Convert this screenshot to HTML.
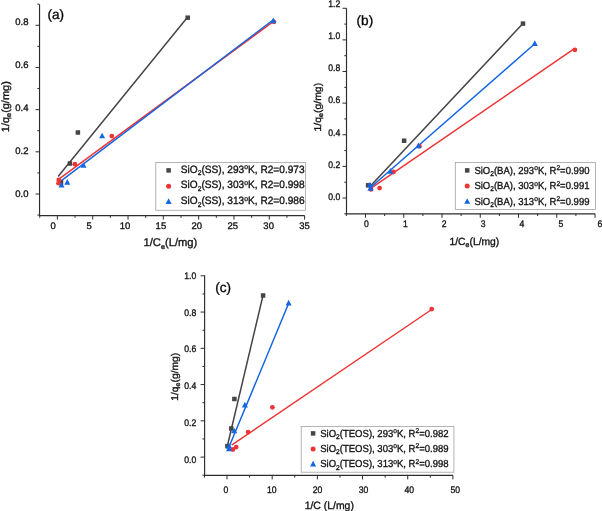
<!DOCTYPE html>
<html><head><meta charset="utf-8"><title>chart</title>
<style>
html,body{margin:0;padding:0;background:#fff;}
body{width:602px;height:511px;overflow:hidden;}
svg{display:block;font-family:"Liberation Sans",sans-serif;fill:#141414;text-rendering:geometricPrecision;will-change:transform;filter:blur(0.35px);}
text{stroke:#141414;stroke-width:0.34px;}
</style></head><body>
<svg width="602" height="511" viewBox="0 0 602 511">
<rect width="602" height="511" fill="#fff"/>
<g id="pa">
<path d="M39.55 4.5V215.6H304.6" fill="none" stroke="#2c2c2c" stroke-width="1.15"/>
<line x1="39.74" y1="215.6" x2="39.74" y2="217.79999999999998" stroke="#2c2c2c" stroke-width="1"/>
<line x1="57.40" y1="215.6" x2="57.40" y2="219.6" stroke="#2c2c2c" stroke-width="1"/>
<line x1="75.06" y1="215.6" x2="75.06" y2="217.79999999999998" stroke="#2c2c2c" stroke-width="1"/>
<line x1="92.72" y1="215.6" x2="92.72" y2="219.6" stroke="#2c2c2c" stroke-width="1"/>
<line x1="110.37" y1="215.6" x2="110.37" y2="217.79999999999998" stroke="#2c2c2c" stroke-width="1"/>
<line x1="128.03" y1="215.6" x2="128.03" y2="219.6" stroke="#2c2c2c" stroke-width="1"/>
<line x1="145.69" y1="215.6" x2="145.69" y2="217.79999999999998" stroke="#2c2c2c" stroke-width="1"/>
<line x1="163.34" y1="215.6" x2="163.34" y2="219.6" stroke="#2c2c2c" stroke-width="1"/>
<line x1="181.00" y1="215.6" x2="181.00" y2="217.79999999999998" stroke="#2c2c2c" stroke-width="1"/>
<line x1="198.66" y1="215.6" x2="198.66" y2="219.6" stroke="#2c2c2c" stroke-width="1"/>
<line x1="216.32" y1="215.6" x2="216.32" y2="217.79999999999998" stroke="#2c2c2c" stroke-width="1"/>
<line x1="233.97" y1="215.6" x2="233.97" y2="219.6" stroke="#2c2c2c" stroke-width="1"/>
<line x1="251.63" y1="215.6" x2="251.63" y2="217.79999999999998" stroke="#2c2c2c" stroke-width="1"/>
<line x1="269.29" y1="215.6" x2="269.29" y2="219.6" stroke="#2c2c2c" stroke-width="1"/>
<line x1="286.95" y1="215.6" x2="286.95" y2="217.79999999999998" stroke="#2c2c2c" stroke-width="1"/>
<line x1="304.60" y1="215.6" x2="304.60" y2="219.6" stroke="#2c2c2c" stroke-width="1"/>
<line x1="37.349999999999994" y1="215.09" x2="39.55" y2="215.09" stroke="#2c2c2c" stroke-width="1"/>
<line x1="35.55" y1="194.00" x2="39.55" y2="194.00" stroke="#2c2c2c" stroke-width="1"/>
<line x1="37.349999999999994" y1="172.91" x2="39.55" y2="172.91" stroke="#2c2c2c" stroke-width="1"/>
<line x1="35.55" y1="151.82" x2="39.55" y2="151.82" stroke="#2c2c2c" stroke-width="1"/>
<line x1="37.349999999999994" y1="130.73" x2="39.55" y2="130.73" stroke="#2c2c2c" stroke-width="1"/>
<line x1="35.55" y1="109.64" x2="39.55" y2="109.64" stroke="#2c2c2c" stroke-width="1"/>
<line x1="37.349999999999994" y1="88.55" x2="39.55" y2="88.55" stroke="#2c2c2c" stroke-width="1"/>
<line x1="35.55" y1="67.46" x2="39.55" y2="67.46" stroke="#2c2c2c" stroke-width="1"/>
<line x1="37.349999999999994" y1="46.37" x2="39.55" y2="46.37" stroke="#2c2c2c" stroke-width="1"/>
<line x1="35.55" y1="25.28" x2="39.55" y2="25.28" stroke="#2c2c2c" stroke-width="1"/>
<line x1="37.349999999999994" y1="4.19" x2="39.55" y2="4.19" stroke="#2c2c2c" stroke-width="1"/>
<text transform="translate(53.10,229.10) scale(1.0,1)" font-size="9.5" text-anchor="middle">0</text>
<text transform="translate(89.03,229.10) scale(1.0,1)" font-size="9.5" text-anchor="middle">5</text>
<text transform="translate(124.95,229.10) scale(1.0,1)" font-size="9.5" text-anchor="middle">10</text>
<text transform="translate(160.88,229.10) scale(1.0,1)" font-size="9.5" text-anchor="middle">15</text>
<text transform="translate(196.80,229.10) scale(1.0,1)" font-size="9.5" text-anchor="middle">20</text>
<text transform="translate(232.72,229.10) scale(1.0,1)" font-size="9.5" text-anchor="middle">25</text>
<text transform="translate(268.65,229.10) scale(1.0,1)" font-size="9.5" text-anchor="middle">30</text>
<text transform="translate(304.57,229.10) scale(1.0,1)" font-size="9.5" text-anchor="middle">35</text>
<text transform="translate(28.50,25.00) scale(1.0,1)" font-size="9.5" text-anchor="end">0.8</text>
<text transform="translate(28.50,68.00) scale(1.0,1)" font-size="9.5" text-anchor="end">0.6</text>
<text transform="translate(28.50,111.00) scale(1.0,1)" font-size="9.5" text-anchor="end">0.4</text>
<text transform="translate(28.50,154.00) scale(1.0,1)" font-size="9.5" text-anchor="end">0.2</text>
<text transform="translate(28.50,197.00) scale(1.0,1)" font-size="9.5" text-anchor="end">0.0</text>
<line x1="58.5" y1="176" x2="187.5" y2="17.3" stroke="#454545" stroke-width="1.5" stroke-linecap="round"/>
<line x1="58.5" y1="179.3" x2="273.5" y2="21.4" stroke="#EE3434" stroke-width="1.5" stroke-linecap="round"/>
<line x1="61.1" y1="180.9" x2="273" y2="20.0" stroke="#1466E4" stroke-width="1.5" stroke-linecap="round"/>
<rect x="185.45" y="15.45" width="4.5" height="4.5" fill="#454545"/>
<rect x="75.65" y="130.25" width="4.5" height="4.5" fill="#454545"/>
<rect x="67.65" y="161.25" width="4.5" height="4.5" fill="#454545"/>
<rect x="58.75" y="180.25" width="4.5" height="4.5" fill="#454545"/>
<circle cx="273.90" cy="21.80" r="2.4" fill="#EE3434"/>
<circle cx="111.80" cy="136.10" r="2.4" fill="#EE3434"/>
<circle cx="74.90" cy="164.20" r="2.4" fill="#EE3434"/>
<circle cx="58.80" cy="180.00" r="2.4" fill="#EE3434"/>
<circle cx="58.50" cy="183.20" r="2.4" fill="#EE3434"/>
<path d="M270.30 23.15L276.30 23.15L273.30 17.45Z" fill="#1466E4"/>
<path d="M99.10 138.35L105.10 138.35L102.10 132.65Z" fill="#1466E4"/>
<path d="M80.50 167.85L86.50 167.85L83.50 162.15Z" fill="#1466E4"/>
<path d="M64.30 184.65L70.30 184.65L67.30 178.95Z" fill="#1466E4"/>
<path d="M58.50 187.45L64.50 187.45L61.50 181.75Z" fill="#1466E4"/>
<text x="47.4" y="19.4" font-size="13.6" fill="#000">(a)</text>
<text transform="translate(9.0,106.7) rotate(-90)" font-size="10.5" text-anchor="middle" textLength="51" lengthAdjust="spacingAndGlyphs">1/q<tspan font-size="7.0" dy="2.1">e</tspan><tspan dy="-2.1">(g/mg)</tspan></text>
<text x="170.4" y="246.3" font-size="11.2" text-anchor="middle" textLength="53.8" lengthAdjust="spacingAndGlyphs">1/C<tspan font-size="7.2" dy="2.4">e</tspan><tspan dy="-2.4">(L/mg)</tspan></text>
<rect x="155.8" y="162.4" width="149.70" height="47.90" fill="#fff" stroke="#a2a2a2" stroke-width="0.8"/>
<rect x="166.35" y="168.15" width="4.5" height="4.5" fill="#454545"/>
<text x="180.8" y="172.50" font-size="10.6" textLength="123.8" lengthAdjust="spacingAndGlyphs">SiO<tspan font-size="7.1" dy="2.3">2</tspan><tspan dy="-2.3">(SS), 293</tspan><tspan font-size="7.1" dy="-3.5">o</tspan><tspan dy="3.5">K, R2=0.973</tspan></text>
<circle cx="168.60" cy="186.20" r="2.5" fill="#EE3434"/>
<text x="180.8" y="188.20" font-size="10.6" textLength="123.8" lengthAdjust="spacingAndGlyphs">SiO<tspan font-size="7.1" dy="2.3">2</tspan><tspan dy="-2.3">(SS), 303</tspan><tspan font-size="7.1" dy="-3.5">o</tspan><tspan dy="3.5">K, R2=0.998</tspan></text>
<path d="M165.60 204.05L171.60 204.05L168.60 198.35Z" fill="#1466E4"/>
<text x="180.8" y="204.20" font-size="10.6" textLength="123.8" lengthAdjust="spacingAndGlyphs">SiO<tspan font-size="7.1" dy="2.3">2</tspan><tspan dy="-2.3">(SS), 313</tspan><tspan font-size="7.1" dy="-3.5">o</tspan><tspan dy="3.5">K, R2=0.986</tspan></text>
</g>
<g id="pb">
<path d="M346.5 8.2V213.8H595.1" fill="none" stroke="#2c2c2c" stroke-width="1.15"/>
<line x1="346.38" y1="213.8" x2="346.38" y2="216.0" stroke="#2c2c2c" stroke-width="1"/>
<line x1="365.50" y1="213.8" x2="365.50" y2="217.8" stroke="#2c2c2c" stroke-width="1"/>
<line x1="384.62" y1="213.8" x2="384.62" y2="216.0" stroke="#2c2c2c" stroke-width="1"/>
<line x1="403.75" y1="213.8" x2="403.75" y2="217.8" stroke="#2c2c2c" stroke-width="1"/>
<line x1="422.88" y1="213.8" x2="422.88" y2="216.0" stroke="#2c2c2c" stroke-width="1"/>
<line x1="442.00" y1="213.8" x2="442.00" y2="217.8" stroke="#2c2c2c" stroke-width="1"/>
<line x1="461.12" y1="213.8" x2="461.12" y2="216.0" stroke="#2c2c2c" stroke-width="1"/>
<line x1="480.25" y1="213.8" x2="480.25" y2="217.8" stroke="#2c2c2c" stroke-width="1"/>
<line x1="499.38" y1="213.8" x2="499.38" y2="216.0" stroke="#2c2c2c" stroke-width="1"/>
<line x1="518.50" y1="213.8" x2="518.50" y2="217.8" stroke="#2c2c2c" stroke-width="1"/>
<line x1="537.62" y1="213.8" x2="537.62" y2="216.0" stroke="#2c2c2c" stroke-width="1"/>
<line x1="556.75" y1="213.8" x2="556.75" y2="217.8" stroke="#2c2c2c" stroke-width="1"/>
<line x1="575.88" y1="213.8" x2="575.88" y2="216.0" stroke="#2c2c2c" stroke-width="1"/>
<line x1="595.00" y1="213.8" x2="595.00" y2="217.8" stroke="#2c2c2c" stroke-width="1"/>
<line x1="344.3" y1="213.81" x2="346.5" y2="213.81" stroke="#2c2c2c" stroke-width="1"/>
<line x1="342.5" y1="198.00" x2="346.5" y2="198.00" stroke="#2c2c2c" stroke-width="1"/>
<line x1="344.3" y1="182.19" x2="346.5" y2="182.19" stroke="#2c2c2c" stroke-width="1"/>
<line x1="342.5" y1="166.38" x2="346.5" y2="166.38" stroke="#2c2c2c" stroke-width="1"/>
<line x1="344.3" y1="150.57" x2="346.5" y2="150.57" stroke="#2c2c2c" stroke-width="1"/>
<line x1="342.5" y1="134.76" x2="346.5" y2="134.76" stroke="#2c2c2c" stroke-width="1"/>
<line x1="344.3" y1="118.95" x2="346.5" y2="118.95" stroke="#2c2c2c" stroke-width="1"/>
<line x1="342.5" y1="103.14" x2="346.5" y2="103.14" stroke="#2c2c2c" stroke-width="1"/>
<line x1="344.3" y1="87.33" x2="346.5" y2="87.33" stroke="#2c2c2c" stroke-width="1"/>
<line x1="342.5" y1="71.52" x2="346.5" y2="71.52" stroke="#2c2c2c" stroke-width="1"/>
<line x1="344.3" y1="55.71" x2="346.5" y2="55.71" stroke="#2c2c2c" stroke-width="1"/>
<line x1="342.5" y1="39.90" x2="346.5" y2="39.90" stroke="#2c2c2c" stroke-width="1"/>
<line x1="344.3" y1="24.09" x2="346.5" y2="24.09" stroke="#2c2c2c" stroke-width="1"/>
<line x1="342.5" y1="8.28" x2="346.5" y2="8.28" stroke="#2c2c2c" stroke-width="1"/>
<text transform="translate(366.40,226.70) scale(0.91,1)" font-size="9.5" text-anchor="middle">0</text>
<text transform="translate(405.30,226.70) scale(0.91,1)" font-size="9.5" text-anchor="middle">1</text>
<text transform="translate(444.20,226.70) scale(0.91,1)" font-size="9.5" text-anchor="middle">2</text>
<text transform="translate(483.10,226.70) scale(0.91,1)" font-size="9.5" text-anchor="middle">3</text>
<text transform="translate(522.00,226.70) scale(0.91,1)" font-size="9.5" text-anchor="middle">4</text>
<text transform="translate(560.90,226.70) scale(0.91,1)" font-size="9.5" text-anchor="middle">5</text>
<text transform="translate(599.80,226.70) scale(0.91,1)" font-size="9.5" text-anchor="middle">6</text>
<text transform="translate(340.20,200.00) scale(0.91,1)" font-size="9.5" text-anchor="end">0.0</text>
<text transform="translate(340.20,167.82) scale(0.91,1)" font-size="9.5" text-anchor="end">0.2</text>
<text transform="translate(340.20,135.64) scale(0.91,1)" font-size="9.5" text-anchor="end">0.4</text>
<text transform="translate(340.20,103.46) scale(0.91,1)" font-size="9.5" text-anchor="end">0.6</text>
<text transform="translate(340.20,71.28) scale(0.91,1)" font-size="9.5" text-anchor="end">0.8</text>
<text transform="translate(340.20,39.10) scale(0.91,1)" font-size="9.5" text-anchor="end">1.0</text>
<text transform="translate(340.20,6.92) scale(0.91,1)" font-size="9.5" text-anchor="end">1.2</text>
<line x1="369.5" y1="187.1" x2="522.5" y2="24" stroke="#454545" stroke-width="1.5" stroke-linecap="round"/>
<line x1="370.4" y1="188.6" x2="574.4" y2="48.6" stroke="#EE3434" stroke-width="1.5" stroke-linecap="round"/>
<line x1="370" y1="188" x2="534.5" y2="44" stroke="#1466E4" stroke-width="1.5" stroke-linecap="round"/>
<rect x="520.75" y="21.35" width="4.5" height="4.5" fill="#454545"/>
<rect x="401.85" y="138.45" width="4.5" height="4.5" fill="#454545"/>
<rect x="365.85" y="183.05" width="4.5" height="4.5" fill="#454545"/>
<circle cx="574.90" cy="49.80" r="2.4" fill="#EE3434"/>
<circle cx="419.40" cy="146.20" r="2.4" fill="#EE3434"/>
<circle cx="393.50" cy="172.00" r="2.4" fill="#EE3434"/>
<circle cx="379.60" cy="188.10" r="2.4" fill="#EE3434"/>
<circle cx="371.00" cy="189.40" r="2.4" fill="#EE3434"/>
<path d="M531.80 46.05L537.80 46.05L534.80 40.35Z" fill="#1466E4"/>
<path d="M415.40 148.25L421.40 148.25L418.40 142.55Z" fill="#1466E4"/>
<path d="M387.40 173.65L393.40 173.65L390.40 167.95Z" fill="#1466E4"/>
<path d="M367.00 187.35L373.00 187.35L370.00 181.65Z" fill="#1466E4"/>
<path d="M367.40 190.85L373.40 190.85L370.40 185.15Z" fill="#1466E4"/>
<text x="356.6" y="25.2" font-size="13.6" fill="#000">(b)</text>
<text transform="translate(321.4,107.2) rotate(-90)" font-size="9.9" text-anchor="middle" textLength="48.6" lengthAdjust="spacingAndGlyphs">1/q<tspan font-size="6.8" dy="2.0">e</tspan><tspan dy="-2.0">(g/mg)</tspan></text>
<text x="474.4" y="244.5" font-size="10.4" text-anchor="middle" textLength="49.8" lengthAdjust="spacingAndGlyphs">1/C<tspan font-size="7" dy="2.3">e</tspan><tspan dy="-2.3">(L/mg)</tspan></text>
<rect x="455.3" y="162.4" width="140.30" height="47.10" fill="#fff" stroke="#a2a2a2" stroke-width="0.8"/>
<rect x="464.95" y="168.15" width="4.5" height="4.5" fill="#454545"/>
<text x="474.4" y="173.60" font-size="10.2" textLength="115.1" lengthAdjust="spacingAndGlyphs">SiO<tspan font-size="7.1" dy="2.3">2</tspan><tspan dy="-2.3">(BA), 293</tspan><tspan font-size="7.1" dy="-3.5">o</tspan><tspan dy="3.5">K, R</tspan><tspan font-size="7.1" dy="-3.5">2</tspan><tspan dy="3.5">=0.990</tspan></text>
<circle cx="467.20" cy="186.10" r="2.5" fill="#EE3434"/>
<text x="474.4" y="189.00" font-size="10.2" textLength="115.1" lengthAdjust="spacingAndGlyphs">SiO<tspan font-size="7.1" dy="2.3">2</tspan><tspan dy="-2.3">(BA), 303</tspan><tspan font-size="7.1" dy="-3.5">o</tspan><tspan dy="3.5">K, R</tspan><tspan font-size="7.1" dy="-3.5">2</tspan><tspan dy="3.5">=0.991</tspan></text>
<path d="M464.20 203.85L470.20 203.85L467.20 198.15Z" fill="#1466E4"/>
<text x="474.4" y="204.70" font-size="10.2" textLength="115.1" lengthAdjust="spacingAndGlyphs">SiO<tspan font-size="7.1" dy="2.3">2</tspan><tspan dy="-2.3">(BA), 313</tspan><tspan font-size="7.1" dy="-3.5">o</tspan><tspan dy="3.5">K, R</tspan><tspan font-size="7.1" dy="-3.5">2</tspan><tspan dy="3.5">=0.999</tspan></text>
</g>
<g id="pc">
<path d="M204.6 275.3V475.4H453.0" fill="none" stroke="#2c2c2c" stroke-width="1.15"/>
<line x1="204.41" y1="475.4" x2="204.41" y2="477.59999999999997" stroke="#2c2c2c" stroke-width="1"/>
<line x1="227.00" y1="475.4" x2="227.00" y2="479.4" stroke="#2c2c2c" stroke-width="1"/>
<line x1="249.59" y1="475.4" x2="249.59" y2="477.59999999999997" stroke="#2c2c2c" stroke-width="1"/>
<line x1="272.18" y1="475.4" x2="272.18" y2="479.4" stroke="#2c2c2c" stroke-width="1"/>
<line x1="294.77" y1="475.4" x2="294.77" y2="477.59999999999997" stroke="#2c2c2c" stroke-width="1"/>
<line x1="317.36" y1="475.4" x2="317.36" y2="479.4" stroke="#2c2c2c" stroke-width="1"/>
<line x1="339.95" y1="475.4" x2="339.95" y2="477.59999999999997" stroke="#2c2c2c" stroke-width="1"/>
<line x1="362.54" y1="475.4" x2="362.54" y2="479.4" stroke="#2c2c2c" stroke-width="1"/>
<line x1="385.13" y1="475.4" x2="385.13" y2="477.59999999999997" stroke="#2c2c2c" stroke-width="1"/>
<line x1="407.72" y1="475.4" x2="407.72" y2="479.4" stroke="#2c2c2c" stroke-width="1"/>
<line x1="430.31" y1="475.4" x2="430.31" y2="477.59999999999997" stroke="#2c2c2c" stroke-width="1"/>
<line x1="452.90" y1="475.4" x2="452.90" y2="479.4" stroke="#2c2c2c" stroke-width="1"/>
<line x1="202.4" y1="475.23" x2="204.6" y2="475.23" stroke="#2c2c2c" stroke-width="1"/>
<line x1="200.6" y1="457.10" x2="204.6" y2="457.10" stroke="#2c2c2c" stroke-width="1"/>
<line x1="202.4" y1="438.97" x2="204.6" y2="438.97" stroke="#2c2c2c" stroke-width="1"/>
<line x1="200.6" y1="420.84" x2="204.6" y2="420.84" stroke="#2c2c2c" stroke-width="1"/>
<line x1="202.4" y1="402.71" x2="204.6" y2="402.71" stroke="#2c2c2c" stroke-width="1"/>
<line x1="200.6" y1="384.58" x2="204.6" y2="384.58" stroke="#2c2c2c" stroke-width="1"/>
<line x1="202.4" y1="366.45" x2="204.6" y2="366.45" stroke="#2c2c2c" stroke-width="1"/>
<line x1="200.6" y1="348.32" x2="204.6" y2="348.32" stroke="#2c2c2c" stroke-width="1"/>
<line x1="202.4" y1="330.19" x2="204.6" y2="330.19" stroke="#2c2c2c" stroke-width="1"/>
<line x1="200.6" y1="312.06" x2="204.6" y2="312.06" stroke="#2c2c2c" stroke-width="1"/>
<line x1="202.4" y1="293.93" x2="204.6" y2="293.93" stroke="#2c2c2c" stroke-width="1"/>
<line x1="200.6" y1="275.80" x2="204.6" y2="275.80" stroke="#2c2c2c" stroke-width="1"/>
<text transform="translate(225.90,492.70) scale(0.91,1)" font-size="9.5" text-anchor="middle">0</text>
<text transform="translate(271.76,492.70) scale(0.91,1)" font-size="9.5" text-anchor="middle">10</text>
<text transform="translate(317.62,492.70) scale(0.91,1)" font-size="9.5" text-anchor="middle">20</text>
<text transform="translate(363.48,492.70) scale(0.91,1)" font-size="9.5" text-anchor="middle">30</text>
<text transform="translate(409.34,492.70) scale(0.91,1)" font-size="9.5" text-anchor="middle">40</text>
<text transform="translate(455.20,492.70) scale(0.91,1)" font-size="9.5" text-anchor="middle">50</text>
<text transform="translate(196.20,463.30) scale(0.91,1)" font-size="9.5" text-anchor="end">0.0</text>
<text transform="translate(196.20,426.36) scale(0.91,1)" font-size="9.5" text-anchor="end">0.2</text>
<text transform="translate(196.20,389.42) scale(0.91,1)" font-size="9.5" text-anchor="end">0.4</text>
<text transform="translate(196.20,352.48) scale(0.91,1)" font-size="9.5" text-anchor="end">0.6</text>
<text transform="translate(196.20,315.54) scale(0.91,1)" font-size="9.5" text-anchor="end">0.8</text>
<text transform="translate(196.20,278.60) scale(0.91,1)" font-size="9.5" text-anchor="end">1.0</text>
<line x1="227" y1="447.5" x2="263" y2="295.5" stroke="#454545" stroke-width="1.5" stroke-linecap="round"/>
<line x1="232.3" y1="444.6" x2="431.7" y2="309.5" stroke="#EE3434" stroke-width="1.5" stroke-linecap="round"/>
<line x1="228.4" y1="448.5" x2="288.6" y2="303.5" stroke="#1466E4" stroke-width="1.5" stroke-linecap="round"/>
<rect x="260.85" y="293.25" width="4.5" height="4.5" fill="#454545"/>
<rect x="232.15" y="396.75" width="4.5" height="4.5" fill="#454545"/>
<rect x="229.05" y="426.25" width="4.5" height="4.5" fill="#454545"/>
<rect x="225.15" y="443.85" width="4.5" height="4.5" fill="#454545"/>
<circle cx="431.70" cy="309.10" r="2.4" fill="#EE3434"/>
<circle cx="272.40" cy="407.30" r="2.4" fill="#EE3434"/>
<circle cx="248.10" cy="432.10" r="2.4" fill="#EE3434"/>
<circle cx="236.20" cy="447.10" r="2.4" fill="#EE3434"/>
<circle cx="232.90" cy="449.50" r="2.4" fill="#EE3434"/>
<path d="M285.60 305.55L291.60 305.55L288.60 299.85Z" fill="#1466E4"/>
<path d="M241.90 407.45L247.90 407.45L244.90 401.75Z" fill="#1466E4"/>
<path d="M231.20 433.35L237.20 433.35L234.20 427.65Z" fill="#1466E4"/>
<path d="M226.00 448.45L232.00 448.45L229.00 442.75Z" fill="#1466E4"/>
<path d="M226.00 451.35L232.00 451.35L229.00 445.65Z" fill="#1466E4"/>
<text x="215.3" y="292.3" font-size="13.6" fill="#000">(c)</text>
<text transform="translate(177.9,376.8) rotate(-90)" font-size="9.8" text-anchor="middle" textLength="48" lengthAdjust="spacingAndGlyphs">1/q<tspan font-size="6.8" dy="2.0">e</tspan><tspan dy="-2.0">(g/mg)</tspan></text>
<text x="329.3" y="508.9" font-size="10.6" text-anchor="middle" textLength="49.2" lengthAdjust="spacingAndGlyphs">1/C (L/mg)</text>
<rect x="301.2" y="426.4" width="152.70" height="45.80" fill="#fff" stroke="#a2a2a2" stroke-width="0.8"/>
<rect x="310.85" y="431.15" width="4.5" height="4.5" fill="#454545"/>
<text x="320.2" y="436.60" font-size="10.2" textLength="128.4" lengthAdjust="spacingAndGlyphs">SiO<tspan font-size="7.1" dy="2.3">2</tspan><tspan dy="-2.3">(TEOS), 293</tspan><tspan font-size="7.1" dy="-3.5">o</tspan><tspan dy="3.5">K, R</tspan><tspan font-size="7.1" dy="-3.5">2</tspan><tspan dy="3.5">=0.982</tspan></text>
<circle cx="313.10" cy="449.10" r="2.5" fill="#EE3434"/>
<text x="320.2" y="451.80" font-size="10.2" textLength="128.4" lengthAdjust="spacingAndGlyphs">SiO<tspan font-size="7.1" dy="2.3">2</tspan><tspan dy="-2.3">(TEOS), 303</tspan><tspan font-size="7.1" dy="-3.5">o</tspan><tspan dy="3.5">K, R</tspan><tspan font-size="7.1" dy="-3.5">2</tspan><tspan dy="3.5">=0.989</tspan></text>
<path d="M310.10 466.55L316.10 466.55L313.10 460.85Z" fill="#1466E4"/>
<text x="320.2" y="467.20" font-size="10.2" textLength="128.4" lengthAdjust="spacingAndGlyphs">SiO<tspan font-size="7.1" dy="2.3">2</tspan><tspan dy="-2.3">(TEOS), 313</tspan><tspan font-size="7.1" dy="-3.5">o</tspan><tspan dy="3.5">K, R</tspan><tspan font-size="7.1" dy="-3.5">2</tspan><tspan dy="3.5">=0.998</tspan></text>
</g>
</svg></body></html>
